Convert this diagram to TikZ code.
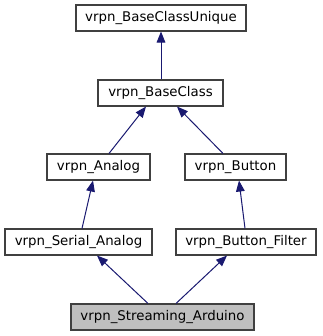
\documentclass[tikz,border=0pt]{standalone}
\usepackage{fontspec}
\setmainfont{DejaVu Sans}
\usetikzlibrary{calc,arrows.meta}

\definecolor{edgeblue}{HTML}{191970}
\definecolor{boxline}{HTML}{404040}
\definecolor{boxfill}{HTML}{BFBFBF}

\tikzset{
	classbox/.style={draw=boxline, line width=0.8pt, rectangle, minimum height=19.5pt, inner sep=0pt, font=\fontsize{10}{12}\selectfont},
	thisclass/.style={classbox, fill=boxfill},
	inherit/.style={edgeblue, line width=0.75pt, -{Triangle[length=8.25pt,width=6.5pt]}}
}

\begin{document}
\begin{tikzpicture}[x=0.75pt, y=-0.75pt]
	\useasboundingbox (0,0) rectangle (323,336);

	% class boxes, one row per level
	\node[classbox, minimum width=127.5pt] (unique) at (161,18) {vrpn\_BaseClassUnique};
	\node[classbox, minimum width=93.75pt] (base) at (160.5,93) {vrpn\_BaseClass};
	\node[classbox, minimum width=77.25pt] (analog) at (98.5,167) {vrpn\_Analog};
	\node[classbox, minimum width=75.75pt] (button) at (235.5,167) {vrpn\_Button};
	\node[classbox, minimum width=110.25pt] (serial) at (78.5,242) {vrpn\_Serial\_Analog};
	\node[classbox, minimum width=105pt] (filter) at (246,242) {vrpn\_Button\_Filter};
	\node[thisclass, minimum width=137.25pt] (arduino) at (162.5,317) {vrpn\_Streaming\_Arduino};

	% inheritance arrows
	\draw[inherit] ($(base.north)+(0.5,0)$) -- (unique.south);
	\draw[inherit] ($(analog.north)+(10.5,0)$) -- ($(base.south)+(-14.5,0)$);
	\draw[inherit] ($(button.north)+(-12.5,0)$) -- ($(base.south)+(16.5,0)$);
	\draw[inherit] ($(serial.north)+(3.5,0)$) -- ($(analog.south)+(-5.5,0)$);
	\draw[inherit] ($(filter.north)+(-1,0)$) -- ($(button.south)+(3.5,0)$);
	\draw[inherit] ($(arduino.north)+(-14.5,0)$) -- ($(serial.south)+(18.5,0)$);
	\draw[inherit] ($(arduino.north)+(13.5,0)$) -- ($(filter.south)+(-19,0)$);
\end{tikzpicture}
\end{document}
